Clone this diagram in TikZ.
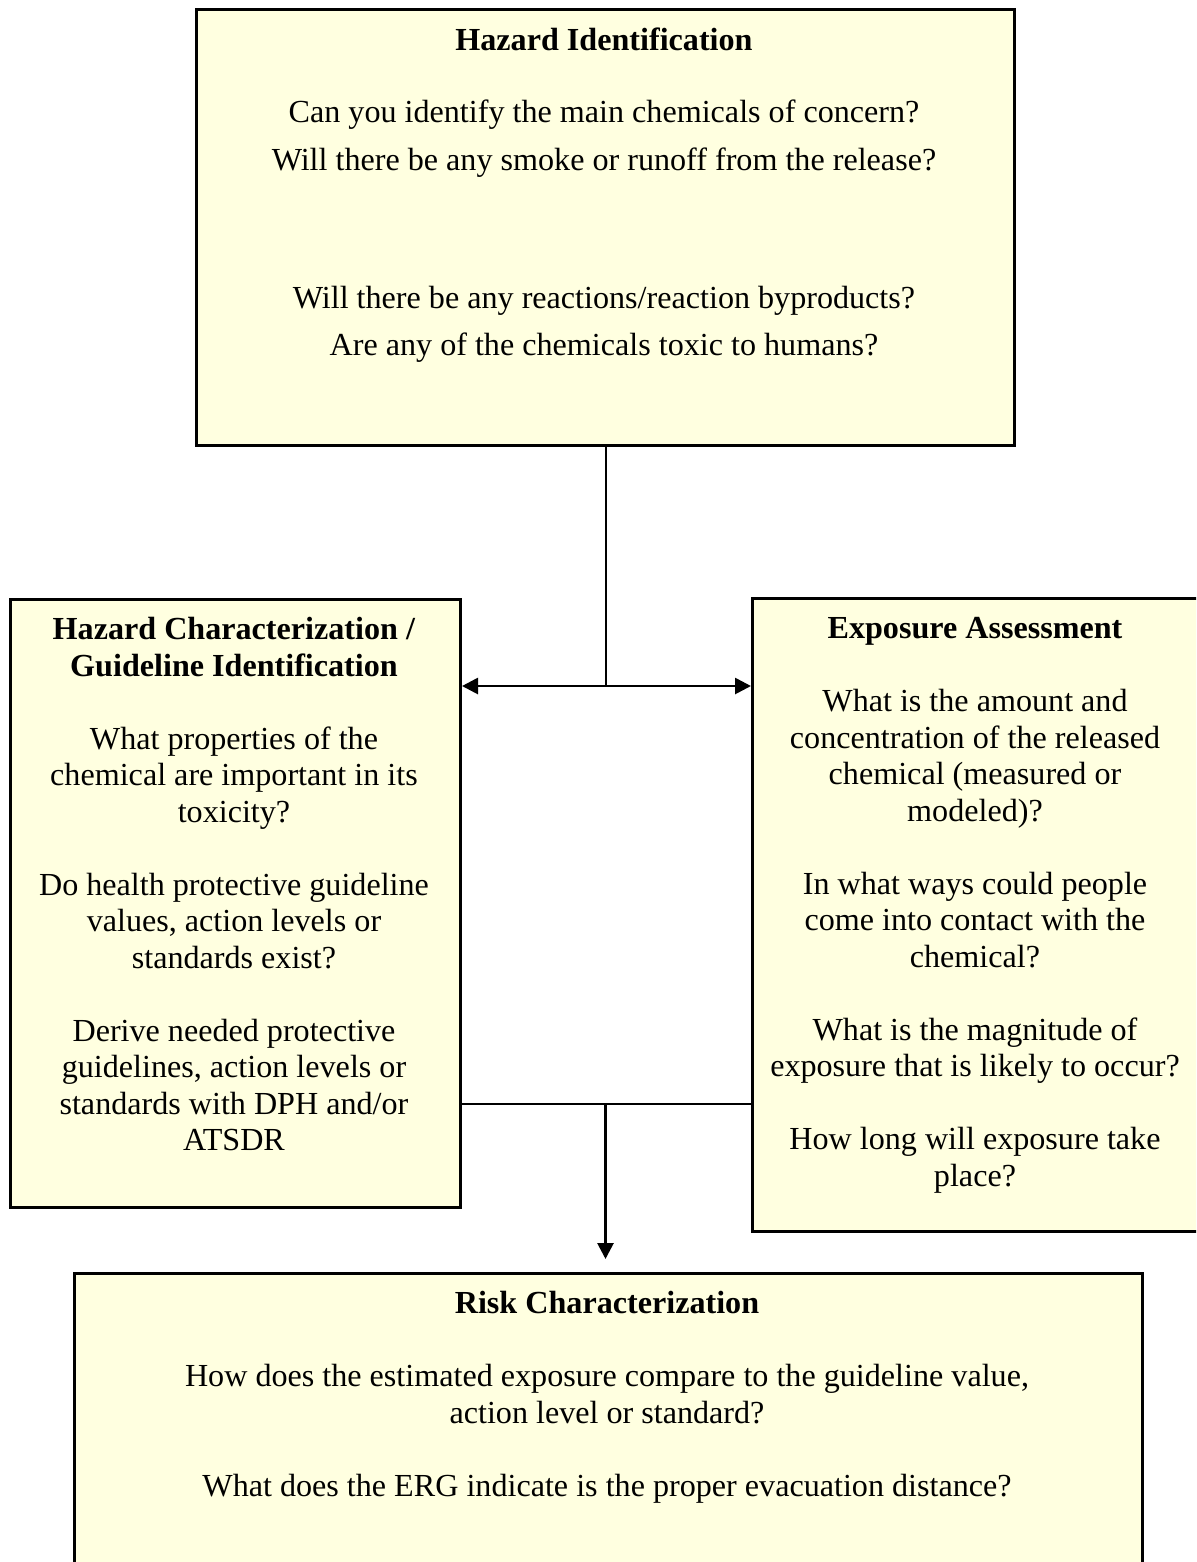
\documentclass[tikz,border=0pt]{standalone}
\usepackage{fontspec}
\setmainfont{Liberation Serif}
\usepackage{tikz}
\usetikzlibrary{arrows.meta, positioning}
\definecolor{boxyellow}{HTML}{FFFFE0}
\newlength\unitpx
\setlength\unitpx{0.4pt}

\begin{document}
\begin{tikzpicture}[
  x=0.4pt, y=-0.4pt,
  box/.style={rectangle, draw=black, fill=boxyellow, line width=1.2pt, anchor=north west, inner sep=0pt},
  boxtext/.style={anchor=north, align=center, inner sep=0pt, font=\fontsize{12.85}{14.6}\selectfont},
  link/.style={line width=0.8pt},
  twoway/.style={line width=1.1pt, {Triangle[length=6.4pt, width=6.4pt]}-{Triangle[length=6.4pt, width=6.4pt]}},
  oneway/.style={line width=1.1pt, -{Triangle[length=6.4pt, width=6.4pt]}}
]
  \useasboundingbox (0,0) rectangle (1196,1562);
  \clip (0,0) rectangle (1196,1562);

  \node[box, minimum width=818*\unitpx, minimum height=436*\unitpx] (hazId) at (195,8) {};
  \node[box, minimum width=450*\unitpx, minimum height=608*\unitpx] (hazChar) at (9,598) {};
  \node[box, minimum width=480*\unitpx, minimum height=633*\unitpx] (expo) at (751,597) {};
  \node[box, minimum width=1068*\unitpx, minimum height=330*\unitpx] (risk) at (73,1272) {};

  \node[boxtext] (hazIdText) at (604,27) {\textbf{Hazard Identification}\\[14.2pt]
    Can you identify the main chemicals of concern?\\[4.6pt]
    Will there be any smoke or runoff from the release?\\[40.6pt]
    Will there be any reactions/reaction byproducts?\\[4.2pt]
    Are any of the chemicals toxic to humans?};
  \node[boxtext] (hazCharText) at (234,617) {\textbf{Hazard Characterization /}\\
    \textbf{Guideline Identification}\\[14.6pt]
    What properties of the\\ chemical are important in its\\ toxicity?\\[14.6pt]
    Do health protective guideline\\ values, action levels or\\ standards exist?\\[14.6pt]
    Derive needed protective\\ guidelines, action levels or\\ standards with DPH and/or\\ ATSDR};
  \node[boxtext] (expoText) at (975,617) {\textbf{Exposure Assessment}\\[14.6pt]
    What is the amount and\\ concentration of the released\\ chemical (measured or\\ modeled)?\\[14.6pt]
    In what ways could people\\ come into contact with the\\ chemical?\\[14.6pt]
    What is the magnitude of\\ exposure that is likely to occur?\\[14.6pt]
    How long will exposure take\\ place?};
  \node[boxtext] (riskText) at (607,1291) {\textbf{Risk Characterization}\\[14.6pt]
    How does the estimated exposure compare to the guideline value,\\ action level or standard?\\[14.6pt]
    What does the ERG indicate is the proper evacuation distance?};

  \coordinate (upSplit) at (hazId.south |- 0,686);
  \coordinate (downJoin) at (hazId.south |- 0,1104);
  \draw[link] (hazId.south) -- (upSplit);
  \draw[twoway] (hazChar.east |- upSplit) -- (expo.west |- upSplit);
  \draw[link] (hazChar.east |- downJoin) -- (expo.west |- downJoin);
  \draw[oneway, shorten >=5.2pt] (downJoin) -- (downJoin |- risk.north);
\end{tikzpicture}
\end{document}
